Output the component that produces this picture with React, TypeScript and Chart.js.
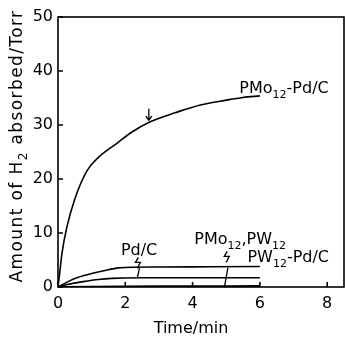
import { useEffect, useRef } from 'react';
import { Chart, registerables } from 'chart.js';

Chart.register(...registerables);

// ---- data ----
const pmoPdTime = [0, 0.04, 0.12, 0.26, 0.5, 0.86, 1.2, 1.75, 2.2, 2.74, 3.5, 4.23, 5.0, 5.5, 6.0];
const pmoPdValues = [0, 2.0, 6.3, 11.0, 16.3, 21.5, 24.0, 26.6, 28.7, 30.6, 32.3, 33.7, 34.6, 35.1, 35.4];

const pdTime = [0, 0.3, 0.6, 1.0, 1.5, 1.8, 3.0, 4.5, 6.0];
const pdValues = [0, 1.0, 1.8, 2.5, 3.2, 3.55, 3.7, 3.75, 3.8];

const pmoPwTime = [0, 0.3, 0.75, 1.2, 1.6, 2.5, 4.0, 6.0];
const pmoPwValues = [0, 0.5, 1.0, 1.4, 1.6, 1.7, 1.7, 1.7];

const pwPdTime = [0, 3.0, 6.0];
const pwPdValues = [0, 0.1, 0.15];

const xTickValues = [0, 2, 4, 6, 8];
const yTickValues = [0, 10, 20, 30, 40, 50];

const xTitle = 'Time/min';
const yTitleParts: [string, boolean][] = [['Amount of H', false], ['2', true], [' absorbed/Torr', false]];

const FONT = '"DejaVu Sans", sans-serif';

function toPoints(xs: number[], ys: number[]) {
  return xs.map((x, i) => ({ x, y: ys[i] }));
}

type Part = [string, boolean];

function drawParts(ctx: CanvasRenderingContext2D, parts: Part[], x: number, y: number, size: number, align: 'left' | 'center', spacing = 0) {
  const subSize = Math.round(size * 0.7);
  (ctx as any).letterSpacing = `${spacing}px`;
  const widths = parts.map(([t, sub]) => {
    ctx.font = `${sub ? subSize : size}px ${FONT}`;
    return ctx.measureText(t).width;
  });
  const total = widths.reduce((a, b) => a + b, 0);
  let cx = align === 'center' ? x - total / 2 : x;
  ctx.textAlign = 'left';
  ctx.textBaseline = 'alphabetic';
  parts.forEach(([t, sub], i) => {
    ctx.font = `${sub ? subSize : size}px ${FONT}`;
    ctx.fillText(t, cx, sub ? y + size * 0.28 : y);
    cx += widths[i];
  });
  (ctx as any).letterSpacing = '0px';
}

const labelDefs: { parts: Part[]; x: number; y: number; align: 'left' | 'center' }[] = [
  { parts: [['PMo', false], ['12', true], ['-Pd/C', false]], x: 5.39, y: 35.9, align: 'left' },
  { parts: [['Pd/C', false]], x: 2.41, y: 5.9, align: 'center' },
  { parts: [['PMo', false], ['12', true], [',PW', false], ['12', true]], x: 4.05, y: 7.9, align: 'left' },
  { parts: [['PW', false], ['12', true], ['-Pd/C', false]], x: 5.63, y: 4.6, align: 'left' },
];

const overlayPlugin = {
  id: 'overlay',
  afterDraw(chart: any) {
    const { ctx, chartArea } = chart;
    const { left, top, right, bottom } = chartArea;
    const xs = chart.scales.x;
    const ys = chart.scales.y;
    const X = (v: number) => xs.getPixelForValue(v);
    const Y = (v: number) => ys.getPixelForValue(v);
    ctx.save();
    ctx.strokeStyle = '#000';
    ctx.fillStyle = '#000';
    ctx.lineWidth = 1.6;
    ctx.lineCap = 'butt';
    // frame
    ctx.strokeRect(left, top, right - left, bottom - top);
    // inward ticks
    ctx.beginPath();
    xTickValues.forEach((v) => {
      const px = X(v);
      ctx.moveTo(px, bottom);
      ctx.lineTo(px, bottom - 5);
    });
    yTickValues.forEach((v) => {
      const py = Y(v);
      ctx.moveTo(left, py);
      ctx.lineTo(left + 5, py);
    });
    ctx.stroke();

    // labels
    labelDefs.forEach((l) => drawParts(ctx, l.parts, X(l.x), Y(l.y), 16, l.align));

    // leader squiggles
    ctx.lineWidth = 1.3;
    const squiggle = (x0: number, y0: number) => {
      ctx.beginPath();
      ctx.moveTo(x0 + 1, y0);
      ctx.lineTo(x0 - 2, y0 + 5);
      ctx.lineTo(x0 + 3, y0 + 5);
      ctx.lineTo(x0, y0 + 11);
      ctx.stroke();
    };
    squiggle(X(2.36), Y(5.5));
    ctx.beginPath();
    ctx.moveTo(X(2.42), Y(3.5));
    ctx.lineTo(X(2.36), Y(1.7));
    ctx.stroke();
    squiggle(X(5.0), Y(6.6));
    ctx.beginPath();
    ctx.moveTo(X(5.05), Y(3.6));
    ctx.lineTo(X(4.95), Y(0.1));
    ctx.stroke();

    // arrow
    const ax = X(2.7);
    const ay0 = Y(33.0);
    const ay1 = Y(30.9);
    ctx.beginPath();
    ctx.moveTo(ax, ay0);
    ctx.lineTo(ax, ay1);
    ctx.moveTo(ax - 3, ay1 - 4);
    ctx.lineTo(ax, ay1);
    ctx.lineTo(ax + 3, ay1 - 4);
    ctx.stroke();

    // axis titles
    drawParts(ctx, [[xTitle, false]], 191, 333, 16, 'center');
    ctx.translate(22, 146);
    ctx.rotate(-Math.PI / 2);
    drawParts(ctx, yTitleParts, 0, 0, 17, 'center', 1.4);
    ctx.restore();
  },
};

export default function App() {
  const ref = useRef<HTMLCanvasElement | null>(null);
  useEffect(() => {
    const canvas = ref.current!;
    const line = (data: { x: number; y: number }[], w: number) => ({
      data,
      borderColor: '#000',
      borderWidth: w,
      pointRadius: 0,
      fill: false,
      cubicInterpolationMode: 'monotone' as const,
    });
    const chart = new Chart(canvas, {
      type: 'line',
      data: {
        datasets: [
          line(toPoints(pmoPdTime, pmoPdValues), 1.6),
          line(toPoints(pdTime, pdValues), 1.6),
          line(toPoints(pmoPwTime, pmoPwValues), 1.6),
          line(toPoints(pwPdTime, pwPdValues), 2.2),
        ],
      },
      options: {
        animation: false,
        responsive: false,
        events: [],
        layout: { padding: { top: 17, right: 1, left: 0, bottom: 0 } },
        plugins: { legend: { display: false }, tooltip: { enabled: false } },
        scales: {
          x: {
            type: 'linear',
            min: 0,
            max: 8.5,
            grid: { display: false, drawTicks: false },
            border: { display: false },
            ticks: { stepSize: 2, padding: 7, color: '#000', font: { family: FONT, size: 16 }, maxRotation: 0 },
            afterBuildTicks: (s: any) => {
              s.ticks = xTickValues.map((v) => ({ value: v }));
            },
            afterFit: (s: any) => {
              s.height = 50;
            },
          },
          y: {
            type: 'linear',
            min: 0,
            max: 50,
            grid: { display: false, drawTicks: false },
            border: { display: false },
            ticks: { stepSize: 10, padding: 5, color: '#000', font: { family: FONT, size: 16 } },
            afterBuildTicks: (s: any) => {
              s.ticks = yTickValues.map((v) => ({ value: v }));
            },
            afterFit: (s: any) => {
              s.width = 58;
            },
          },
        },
      },
      plugins: [overlayPlugin],
    });
    return () => chart.destroy();
  }, []);
  return (
    <div style={{ position: 'fixed', left: 0, top: 0, width: 345, height: 337, background: '#fff' }}>
      <canvas ref={ref} width={345} height={337} style={{ display: 'block', width: 345, height: 337 }} />
    </div>
  );
}
